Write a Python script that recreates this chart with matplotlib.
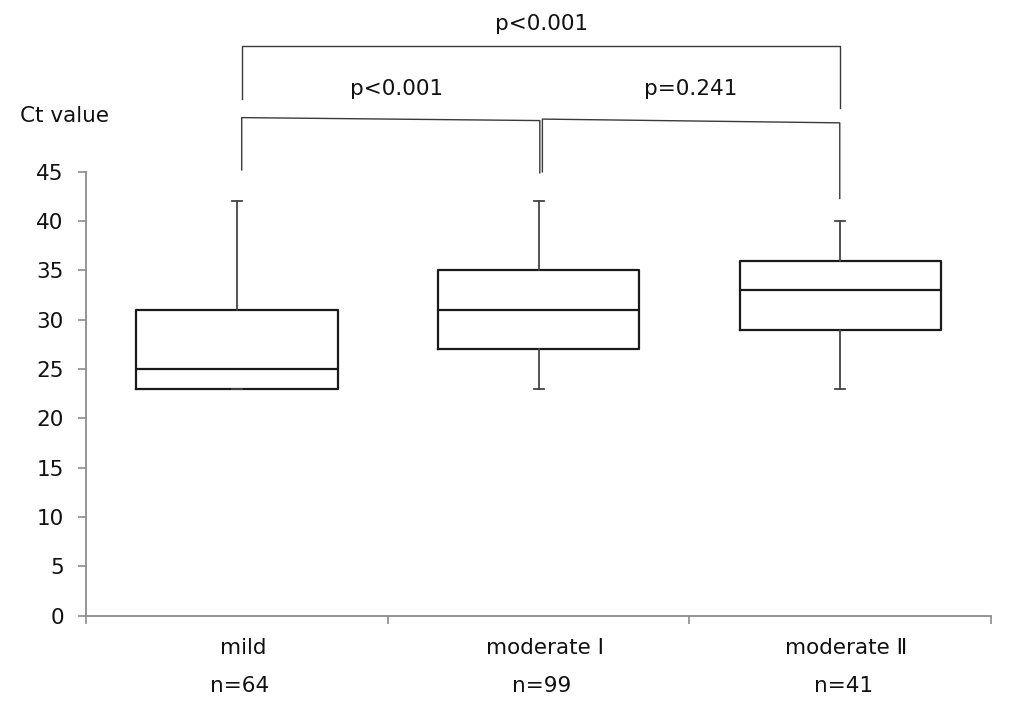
import matplotlib
matplotlib.use("Agg")
import matplotlib.pyplot as plt

# ---- data ----
categories = ["mild", "moderate \u2160", "moderate \u2161"]
n_labels = ["n=64", "n=99", "n=41"]
whisker_low = [23, 23, 23]
q1_values = [23, 27, 29]
medians = [25, 31, 33]
q3_values = [31, 35, 36]
whisker_high = [42, 42, 40]
y_ticks = [0, 5, 10, 15, 20, 25, 30, 35, 40, 45]
p_texts = ["p<0.001", "p<0.001", "p=0.241"]

plt.rcParams['font.family'] = ['DejaVu Sans', 'Noto Sans CJK JP']
FS = 15.5
TXT = "#111111"

fig = plt.figure(figsize=(10.24, 7.09), dpi=100)
ax = fig.add_axes([0.084, 0.1316, 0.884, 0.626])

stats = []
for i, c in enumerate(categories):
    stats.append(dict(label=c, whislo=whisker_low[i], q1=q1_values[i],
                      med=medians[i], q3=q3_values[i], whishi=whisker_high[i],
                      fliers=[]))
ax.bxp(stats, positions=range(len(categories)), widths=0.667,
       showfliers=False, capwidths=0.033,
       boxprops=dict(color="#1a1a1a", linewidth=1.6),
       medianprops=dict(color="#1a1a1a", linewidth=1.6),
       whiskerprops=dict(color="#444444", linewidth=1.3),
       capprops=dict(color="#444444", linewidth=1.3))

ax.set_xlim(-0.5, 2.5)
ax.set_ylim(0, 45)
for s in ["top", "right"]:
    ax.spines[s].set_visible(False)
for s in ["left", "bottom"]:
    ax.spines[s].set_color("#8c8c8c")
    ax.spines[s].set_linewidth(1.3)

ax.set_yticks(y_ticks)
ax.tick_params(axis="y", direction="out", length=6, width=1.2, color="#8c8c8c",
               labelsize=FS, pad=10, labelcolor=TXT)
ax.set_xticks([-0.5, 0.5, 1.5, 2.5])
ax.set_xticklabels([])
ax.tick_params(axis="x", direction="out", length=6, width=1.2, color="#8c8c8c")

tr = ax.get_xaxis_transform()
for i, c in enumerate(categories):
    ax.text(i + 0.02, -0.072, c, transform=tr, ha="center", va="center",
            fontsize=FS, color=TXT)
    ax.text(i + 0.01, -0.158, n_labels[i], transform=tr, ha="center", va="center",
            fontsize=FS, color=TXT)

# ---- significance brackets (annotation geometry) ----
brackets = [
    # x_left, x_right, y_top_left, y_top_right, y_bot_left, y_bot_right
    (0.016, 1.998, 57.8, 57.8, 52.4, 51.5),
    (0.016, 1.004, 50.5, 50.2, 45.2, 44.9),
    (1.0125, 1.998, 50.35, 49.97, 45.0, 42.3),
]
text_pos = [(1.01, 60.0), (0.53, 53.4), (1.505, 53.4)]
for (xl, xr, ytl, ytr, ybl, ybr), t, (tx, ty) in zip(brackets, p_texts, text_pos):
    ax.plot([xl, xl, xr, xr], [ybl, ytl, ytr, ybr], color="#3a3a3a",
            linewidth=1.0, clip_on=False)
    ax.text(tx, ty, t, ha="center", va="center", fontsize=FS, color=TXT,
            clip_on=False)

fig.text(0.0195, 0.836, "Ct value", ha="left", va="center", fontsize=FS,
         color=TXT)

fig.savefig("out.png", dpi=100)
